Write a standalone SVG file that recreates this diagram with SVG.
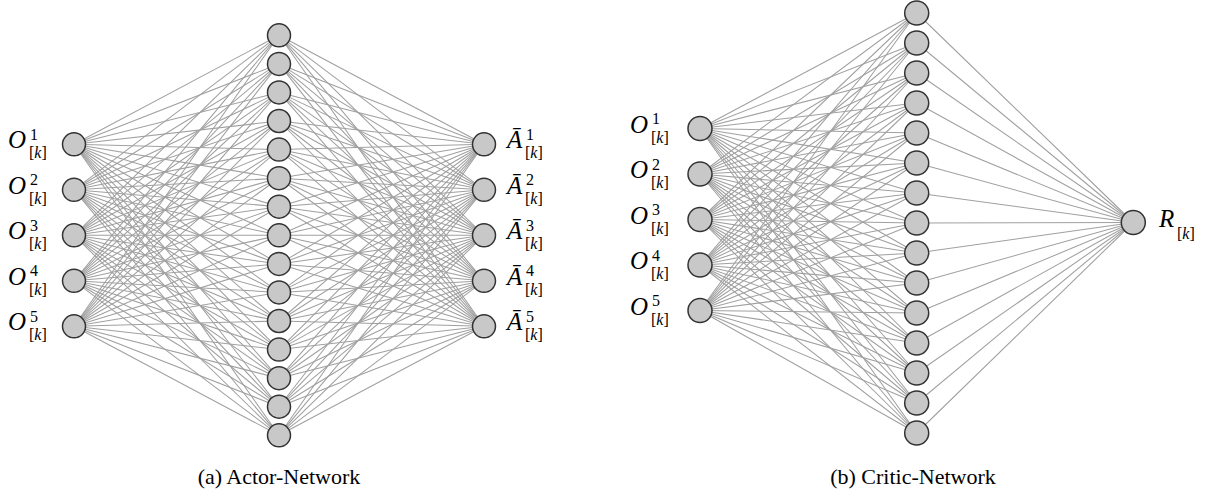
<svg xmlns="http://www.w3.org/2000/svg" width="1209" height="495" viewBox="0 0 1209 495">
<style>
.e{fill:none;stroke:#a0a0a0;stroke-width:1.05;stroke-linejoin:round}
.n{fill:#c8c8c8;stroke:#333;stroke-width:1.5}
.m{font-family:"Liberation Serif",serif;font-style:italic;font-size:25px;fill:#000}
.s{font-family:"Liberation Serif",serif;font-size:16px;fill:#000}
.i{font-style:italic}
.c{font-family:"Liberation Serif",serif;font-size:22px;fill:#000;text-anchor:middle}
</style>
<g id="connectors">
<g id="actor-edges" class="e">
<path d="M74 144.3L279 35.3L484 144.3M74 189.8L279 35.3L484 189.8M74 235.3L279 35.3L484 235.3M74 280.8L279 35.3L484 280.8M74 326.3L279 35.3L484 326.3"/>
<path d="M74 144.3L279 63.9L484 144.3M74 189.8L279 63.9L484 189.8M74 235.3L279 63.9L484 235.3M74 280.8L279 63.9L484 280.8M74 326.3L279 63.9L484 326.3"/>
<path d="M74 144.3L279 92.4L484 144.3M74 189.8L279 92.4L484 189.8M74 235.3L279 92.4L484 235.3M74 280.8L279 92.4L484 280.8M74 326.3L279 92.4L484 326.3"/>
<path d="M74 144.3L279 121L484 144.3M74 189.8L279 121L484 189.8M74 235.3L279 121L484 235.3M74 280.8L279 121L484 280.8M74 326.3L279 121L484 326.3"/>
<path d="M74 144.3L279 149.6L484 144.3M74 189.8L279 149.6L484 189.8M74 235.3L279 149.6L484 235.3M74 280.8L279 149.6L484 280.8M74 326.3L279 149.6L484 326.3"/>
<path d="M74 144.3L279 178.2L484 144.3M74 189.8L279 178.2L484 189.8M74 235.3L279 178.2L484 235.3M74 280.8L279 178.2L484 280.8M74 326.3L279 178.2L484 326.3"/>
<path d="M74 144.3L279 206.7L484 144.3M74 189.8L279 206.7L484 189.8M74 235.3L279 206.7L484 235.3M74 280.8L279 206.7L484 280.8M74 326.3L279 206.7L484 326.3"/>
<path d="M74 144.3L279 235.3L484 144.3M74 189.8L279 235.3L484 189.8M74 235.3L279 235.3L484 235.3M74 280.8L279 235.3L484 280.8M74 326.3L279 235.3L484 326.3"/>
<path d="M74 144.3L279 263.9L484 144.3M74 189.8L279 263.9L484 189.8M74 235.3L279 263.9L484 235.3M74 280.8L279 263.9L484 280.8M74 326.3L279 263.9L484 326.3"/>
<path d="M74 144.3L279 292.4L484 144.3M74 189.8L279 292.4L484 189.8M74 235.3L279 292.4L484 235.3M74 280.8L279 292.4L484 280.8M74 326.3L279 292.4L484 326.3"/>
<path d="M74 144.3L279 321L484 144.3M74 189.8L279 321L484 189.8M74 235.3L279 321L484 235.3M74 280.8L279 321L484 280.8M74 326.3L279 321L484 326.3"/>
<path d="M74 144.3L279 349.6L484 144.3M74 189.8L279 349.6L484 189.8M74 235.3L279 349.6L484 235.3M74 280.8L279 349.6L484 280.8M74 326.3L279 349.6L484 326.3"/>
<path d="M74 144.3L279 378.2L484 144.3M74 189.8L279 378.2L484 189.8M74 235.3L279 378.2L484 235.3M74 280.8L279 378.2L484 280.8M74 326.3L279 378.2L484 326.3"/>
<path d="M74 144.3L279 406.7L484 144.3M74 189.8L279 406.7L484 189.8M74 235.3L279 406.7L484 235.3M74 280.8L279 406.7L484 280.8M74 326.3L279 406.7L484 326.3"/>
<path d="M74 144.3L279 435.3L484 144.3M74 189.8L279 435.3L484 189.8M74 235.3L279 435.3L484 235.3M74 280.8L279 435.3L484 280.8M74 326.3L279 435.3L484 326.3"/>
</g>
<g id="critic-edges" class="e">
<path d="M700 128.5L916.7 13M700 174L916.7 13M700 219.5L916.7 13M700 265L916.7 13M700 310.5L916.7 13L1133.3 222.5"/>
<path d="M700 128.5L916.7 43M700 174L916.7 43M700 219.5L916.7 43M700 265L916.7 43M700 310.5L916.7 43L1133.3 222.5"/>
<path d="M700 128.5L916.7 73M700 174L916.7 73M700 219.5L916.7 73M700 265L916.7 73M700 310.5L916.7 73L1133.3 222.5"/>
<path d="M700 128.5L916.7 103M700 174L916.7 103M700 219.5L916.7 103M700 265L916.7 103M700 310.5L916.7 103L1133.3 222.5"/>
<path d="M700 128.5L916.7 133M700 174L916.7 133M700 219.5L916.7 133M700 265L916.7 133M700 310.5L916.7 133L1133.3 222.5"/>
<path d="M700 128.5L916.7 163M700 174L916.7 163M700 219.5L916.7 163M700 265L916.7 163M700 310.5L916.7 163L1133.3 222.5"/>
<path d="M700 128.5L916.7 193M700 174L916.7 193M700 219.5L916.7 193M700 265L916.7 193M700 310.5L916.7 193L1133.3 222.5"/>
<path d="M700 128.5L916.7 223M700 174L916.7 223M700 219.5L916.7 223M700 265L916.7 223M700 310.5L916.7 223L1133.3 222.5"/>
<path d="M700 128.5L916.7 253M700 174L916.7 253M700 219.5L916.7 253M700 265L916.7 253M700 310.5L916.7 253L1133.3 222.5"/>
<path d="M700 128.5L916.7 283M700 174L916.7 283M700 219.5L916.7 283M700 265L916.7 283M700 310.5L916.7 283L1133.3 222.5"/>
<path d="M700 128.5L916.7 313M700 174L916.7 313M700 219.5L916.7 313M700 265L916.7 313M700 310.5L916.7 313L1133.3 222.5"/>
<path d="M700 128.5L916.7 343M700 174L916.7 343M700 219.5L916.7 343M700 265L916.7 343M700 310.5L916.7 343L1133.3 222.5"/>
<path d="M700 128.5L916.7 373M700 174L916.7 373M700 219.5L916.7 373M700 265L916.7 373M700 310.5L916.7 373L1133.3 222.5"/>
<path d="M700 128.5L916.7 403M700 174L916.7 403M700 219.5L916.7 403M700 265L916.7 403M700 310.5L916.7 403L1133.3 222.5"/>
<path d="M700 128.5L916.7 433M700 174L916.7 433M700 219.5L916.7 433M700 265L916.7 433M700 310.5L916.7 433L1133.3 222.5"/>
</g>
</g>
<g id="actor">
<g id="a-in1"><circle class="n" cx="74" cy="144.3" r="11.5"/><text class="m" x="8" y="148">O</text><text class="s" x="30" y="139.5">1</text><text class="s" x="29" y="158">[<tspan class="i">k</tspan>]</text></g>
<g id="a-in2"><circle class="n" cx="74" cy="189.8" r="11.5"/><text class="m" x="8" y="193.5">O</text><text class="s" x="30" y="185">2</text><text class="s" x="29" y="203.5">[<tspan class="i">k</tspan>]</text></g>
<g id="a-in3"><circle class="n" cx="74" cy="235.3" r="11.5"/><text class="m" x="8" y="239">O</text><text class="s" x="30" y="230.5">3</text><text class="s" x="29" y="249">[<tspan class="i">k</tspan>]</text></g>
<g id="a-in4"><circle class="n" cx="74" cy="280.8" r="11.5"/><text class="m" x="8" y="284.5">O</text><text class="s" x="30" y="276">4</text><text class="s" x="29" y="294.5">[<tspan class="i">k</tspan>]</text></g>
<g id="a-in5"><circle class="n" cx="74" cy="326.3" r="11.5"/><text class="m" x="8" y="330">O</text><text class="s" x="30" y="321.5">5</text><text class="s" x="29" y="340">[<tspan class="i">k</tspan>]</text></g>
<g id="a-h1"><circle class="n" cx="279" cy="35.3" r="11.5"/></g>
<g id="a-h2"><circle class="n" cx="279" cy="63.9" r="11.5"/></g>
<g id="a-h3"><circle class="n" cx="279" cy="92.4" r="11.5"/></g>
<g id="a-h4"><circle class="n" cx="279" cy="121" r="11.5"/></g>
<g id="a-h5"><circle class="n" cx="279" cy="149.6" r="11.5"/></g>
<g id="a-h6"><circle class="n" cx="279" cy="178.2" r="11.5"/></g>
<g id="a-h7"><circle class="n" cx="279" cy="206.7" r="11.5"/></g>
<g id="a-h8"><circle class="n" cx="279" cy="235.3" r="11.5"/></g>
<g id="a-h9"><circle class="n" cx="279" cy="263.9" r="11.5"/></g>
<g id="a-h10"><circle class="n" cx="279" cy="292.4" r="11.5"/></g>
<g id="a-h11"><circle class="n" cx="279" cy="321" r="11.5"/></g>
<g id="a-h12"><circle class="n" cx="279" cy="349.6" r="11.5"/></g>
<g id="a-h13"><circle class="n" cx="279" cy="378.2" r="11.5"/></g>
<g id="a-h14"><circle class="n" cx="279" cy="406.7" r="11.5"/></g>
<g id="a-h15"><circle class="n" cx="279" cy="435.3" r="11.5"/></g>
<g id="a-out1"><circle class="n" cx="484" cy="144.3" r="11.5"/><text class="m" x="507" y="148">Ā</text><text class="s" x="526" y="139.5">1</text><text class="s" x="525" y="158">[<tspan class="i">k</tspan>]</text></g>
<g id="a-out2"><circle class="n" cx="484" cy="189.8" r="11.5"/><text class="m" x="507" y="193.5">Ā</text><text class="s" x="526" y="185">2</text><text class="s" x="525" y="203.5">[<tspan class="i">k</tspan>]</text></g>
<g id="a-out3"><circle class="n" cx="484" cy="235.3" r="11.5"/><text class="m" x="507" y="239">Ā</text><text class="s" x="526" y="230.5">3</text><text class="s" x="525" y="249">[<tspan class="i">k</tspan>]</text></g>
<g id="a-out4"><circle class="n" cx="484" cy="280.8" r="11.5"/><text class="m" x="507" y="284.5">Ā</text><text class="s" x="526" y="276">4</text><text class="s" x="525" y="294.5">[<tspan class="i">k</tspan>]</text></g>
<g id="a-out5"><circle class="n" cx="484" cy="326.3" r="11.5"/><text class="m" x="507" y="330">Ā</text><text class="s" x="526" y="321.5">5</text><text class="s" x="525" y="340">[<tspan class="i">k</tspan>]</text></g>
<text id="cap-a" class="c" x="279" y="484">(a) Actor-Network</text>
</g>
<g id="critic">
<g id="c-in1"><circle class="n" cx="700" cy="128.5" r="12"/><text class="m" x="630" y="132.5">O</text><text class="s" x="652" y="124">1</text><text class="s" x="651" y="142.5">[<tspan class="i">k</tspan>]</text></g>
<g id="c-in2"><circle class="n" cx="700" cy="174" r="12"/><text class="m" x="630" y="178">O</text><text class="s" x="652" y="169.5">2</text><text class="s" x="651" y="188">[<tspan class="i">k</tspan>]</text></g>
<g id="c-in3"><circle class="n" cx="700" cy="219.5" r="12"/><text class="m" x="630" y="223.5">O</text><text class="s" x="652" y="215">3</text><text class="s" x="651" y="233.5">[<tspan class="i">k</tspan>]</text></g>
<g id="c-in4"><circle class="n" cx="700" cy="265" r="12"/><text class="m" x="630" y="269">O</text><text class="s" x="652" y="260.5">4</text><text class="s" x="651" y="279">[<tspan class="i">k</tspan>]</text></g>
<g id="c-in5"><circle class="n" cx="700" cy="310.5" r="12"/><text class="m" x="630" y="314.5">O</text><text class="s" x="652" y="306">5</text><text class="s" x="651" y="324.5">[<tspan class="i">k</tspan>]</text></g>
<g id="c-h1"><circle class="n" cx="916.7" cy="13" r="12"/></g>
<g id="c-h2"><circle class="n" cx="916.7" cy="43" r="12"/></g>
<g id="c-h3"><circle class="n" cx="916.7" cy="73" r="12"/></g>
<g id="c-h4"><circle class="n" cx="916.7" cy="103" r="12"/></g>
<g id="c-h5"><circle class="n" cx="916.7" cy="133" r="12"/></g>
<g id="c-h6"><circle class="n" cx="916.7" cy="163" r="12"/></g>
<g id="c-h7"><circle class="n" cx="916.7" cy="193" r="12"/></g>
<g id="c-h8"><circle class="n" cx="916.7" cy="223" r="12"/></g>
<g id="c-h9"><circle class="n" cx="916.7" cy="253" r="12"/></g>
<g id="c-h10"><circle class="n" cx="916.7" cy="283" r="12"/></g>
<g id="c-h11"><circle class="n" cx="916.7" cy="313" r="12"/></g>
<g id="c-h12"><circle class="n" cx="916.7" cy="343" r="12"/></g>
<g id="c-h13"><circle class="n" cx="916.7" cy="373" r="12"/></g>
<g id="c-h14"><circle class="n" cx="916.7" cy="403" r="12"/></g>
<g id="c-h15"><circle class="n" cx="916.7" cy="433" r="12"/></g>
<g id="c-out"><circle class="n" cx="1133.3" cy="222.5" r="12"/><text class="m" x="1159" y="227">R</text><text class="s" x="1177" y="239">[<tspan class="i">k</tspan>]</text></g>
<text id="cap-b" class="c" x="913" y="484">(b) Critic-Network</text>
</g>
</svg>
